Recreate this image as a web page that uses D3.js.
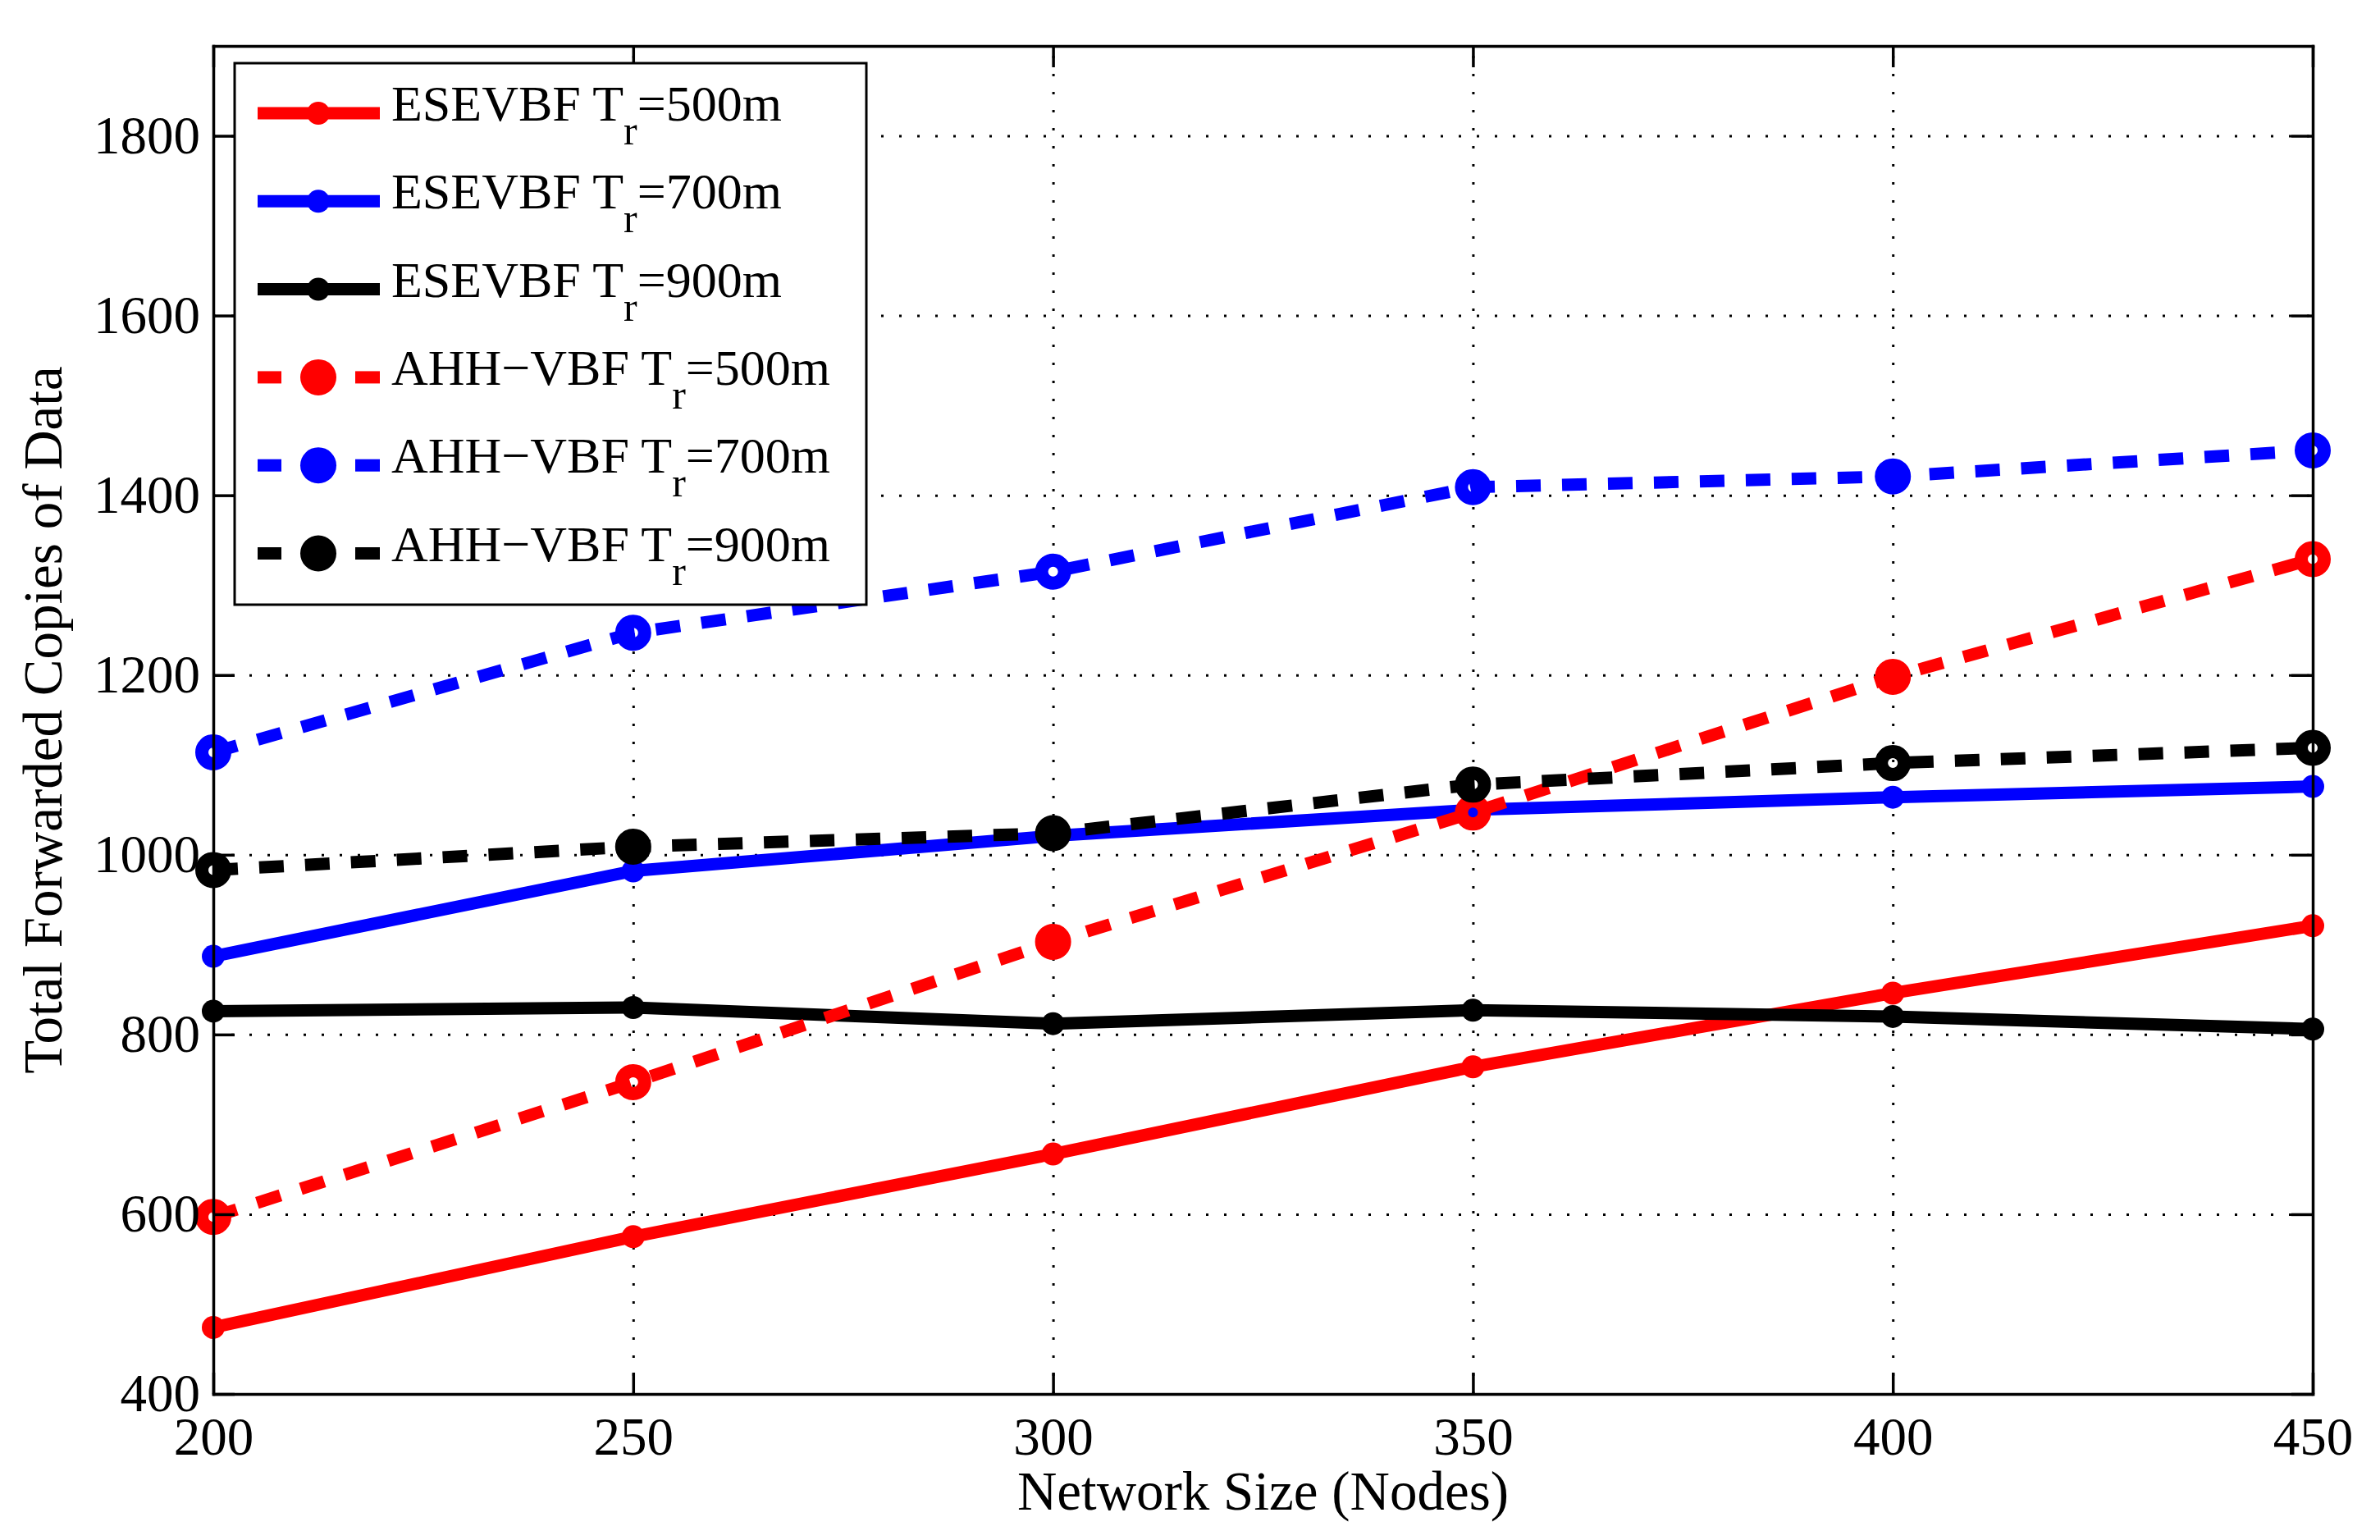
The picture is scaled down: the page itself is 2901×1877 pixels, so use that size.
<!DOCTYPE html>
<html lang="en">
<head>
    <meta charset="UTF-8">
    <title>Total Forwarded Copies of Data</title>
    <script src="https://d3js.org/d3.v7.min.js"></script>
    <style>
        body { margin: 0; background: #fff; }
        text { font-family: "Liberation Serif", "Times New Roman", serif; fill: #000; }
        .axis text { font-family: "Liberation Serif", "Times New Roman", serif; font-size: 65px; }
        .axis path, .axis line { stroke: #000; stroke-width: 3.5; }
        .grid line { stroke: #000; stroke-width: 3; stroke-dasharray: 3 19; }
        .grid path { display: none; }
    </style>
</head>
<body>
    <script>
        const width = 2901;
        const height = 1877;
        const margin = { left: 260, right: 82, top: 56, bottom: 178 };

        // data
        const networkSizes = [200, 250, 300, 350, 400, 450];
        const esevbf500 = [474, 575, 667, 764, 846, 921];
        const esevbf700 = [887, 982, 1021, 1050, 1064, 1076];
        const esevbf900 = [826, 830, 812, 827, 820, 806];
        const ahh500 = [597, 747, 903, 1047, 1198, 1329];
        const ahh700 = [1114, 1247, 1315, 1409, 1421, 1450];
        const ahh900 = [983, 1009, 1024, 1078, 1102, 1119];
        const yTicks = [400, 600, 800, 1000, 1200, 1400, 1600, 1800];

        const series = [
            { name: "ESEVBF T", range: "=500m", values: esevbf500, color: "#ff0000", dashed: false },
            { name: "ESEVBF T", range: "=700m", values: esevbf700, color: "#0000ff", dashed: false },
            { name: "ESEVBF T", range: "=900m", values: esevbf900, color: "#000000", dashed: false },
            { name: "AHH\u2212VBF T", range: "=500m", values: ahh500, color: "#ff0000", dashed: true },
            { name: "AHH\u2212VBF T", range: "=700m", values: ahh700, color: "#0000ff", dashed: true },
            { name: "AHH\u2212VBF T", range: "=900m", values: ahh900, color: "#000000", dashed: true }
        ];

        const svg = d3.select("body")
            .append("svg")
            .attr("width", width)
            .attr("height", height);

        svg.append("rect")
            .attr("width", width)
            .attr("height", height)
            .attr("fill", "#fff");

        const plotW = width - margin.left - margin.right;
        const plotH = height - margin.top - margin.bottom;

        const x = d3.scaleLinear()
            .domain([200, 450])
            .range([margin.left, margin.left + plotW]);

        const y = d3.scaleLinear()
            .domain([400, 1900])
            .range([margin.top + plotH, margin.top]);

        // dotted grid
        svg.append("g")
            .attr("class", "grid")
            .attr("transform", `translate(0,${margin.top + plotH})`)
            .call(d3.axisBottom(x).tickValues(networkSizes.slice(1, -1))
                .tickSize(-plotH).tickFormat(""));

        svg.append("g")
            .attr("class", "grid")
            .attr("transform", `translate(${margin.left},0)`)
            .call(d3.axisLeft(y).tickValues(yTicks.slice(1))
                .tickSize(-plotW).tickFormat(""));

        // lines and markers
        const line = d3.line()
            .x((d, i) => x(networkSizes[i]))
            .y(d => y(d));

        series.forEach(s => {
            svg.append("path")
                .datum(s.values)
                .attr("d", line)
                .attr("fill", "none")
                .attr("stroke", s.color)
                .attr("stroke-width", 15)
                .attr("stroke-dasharray", s.dashed ? "30 26" : null);

            svg.selectAll(null)
                .data(s.values)
                .enter()
                .append("circle")
                .attr("cx", (d, i) => x(networkSizes[i]))
                .attr("cy", d => y(d))
                .attr("r", 14)
                .attr("fill", s.dashed ? "none" : s.color)
                .attr("stroke", s.dashed ? s.color : "none")
                .attr("stroke-width", s.dashed ? 16 : 0);
        });

        // axes, ticks point inward
        svg.append("g")
            .attr("class", "axis")
            .attr("transform", `translate(0,${margin.top + plotH})`)
            .call(d3.axisBottom(x).tickValues(networkSizes).tickFormat(d3.format("d"))
                .tickSizeInner(-26).tickSizeOuter(0).tickPadding(28));

        svg.append("g")
            .attr("class", "axis")
            .attr("transform", `translate(${margin.left},0)`)
            .call(d3.axisLeft(y).tickValues(yTicks).tickFormat(d3.format("d"))
                .tickSizeInner(-26).tickSizeOuter(0).tickPadding(16));

        svg.append("g")
            .attr("class", "axis")
            .attr("transform", `translate(0,${margin.top})`)
            .call(d3.axisTop(x).tickValues(networkSizes)
                .tickSizeInner(-26).tickSizeOuter(0).tickFormat(""));

        svg.append("g")
            .attr("class", "axis")
            .attr("transform", `translate(${margin.left + plotW},0)`)
            .call(d3.axisRight(y).tickValues(yTicks)
                .tickSizeInner(-26).tickSizeOuter(0).tickFormat(""));

        svg.selectAll(".axis .domain").attr("stroke-linecap", "square");

        // axis titles
        svg.append("text")
            .attr("x", margin.left + plotW / 2)
            .attr("y", 1840)
            .attr("text-anchor", "middle")
            .attr("font-size", 67)
            .text("Network Size (Nodes)");

        svg.append("text")
            .attr("transform", `translate(75,${margin.top + plotH / 2}) rotate(-90)`)
            .attr("text-anchor", "middle")
            .attr("font-size", 67)
            .text("Total Forwarded Copies of Data");

        // legend
        const legend = svg.append("g");

        legend.append("rect")
            .attr("x", 286)
            .attr("y", 77)
            .attr("width", 770)
            .attr("height", 660)
            .attr("fill", "#fff")
            .attr("stroke", "#000")
            .attr("stroke-width", 3);

        const rows = legend.selectAll(".row")
            .data(series)
            .enter()
            .append("g")
            .attr("class", "row")
            .attr("transform", (d, i) => `translate(0,${138 + i * 107.3})`);

        rows.append("line")
            .attr("x1", 314)
            .attr("x2", 463)
            .attr("stroke", d => d.color)
            .attr("stroke-width", 15)
            .attr("stroke-dasharray", d => d.dashed ? "29 1000" : null);

        rows.filter(d => d.dashed)
            .append("line")
            .attr("x1", 433)
            .attr("x2", 463)
            .attr("stroke", d => d.color)
            .attr("stroke-width", 15);

        rows.append("circle")
            .attr("cx", 388)
            .attr("r", d => d.dashed ? 22 : 14)
            .attr("fill", d => d.color);

        const label = rows.append("text")
            .attr("x", 477)
            .attr("y", 9)
            .attr("font-size", 62);

        label.append("tspan").text(d => d.name);
        label.append("tspan")
            .attr("dy", 29)
            .attr("font-size", 50)
            .text("r");
        label.append("tspan")
            .attr("dy", -29)
            .text(d => d.range);
    </script>
</body>
</html>
